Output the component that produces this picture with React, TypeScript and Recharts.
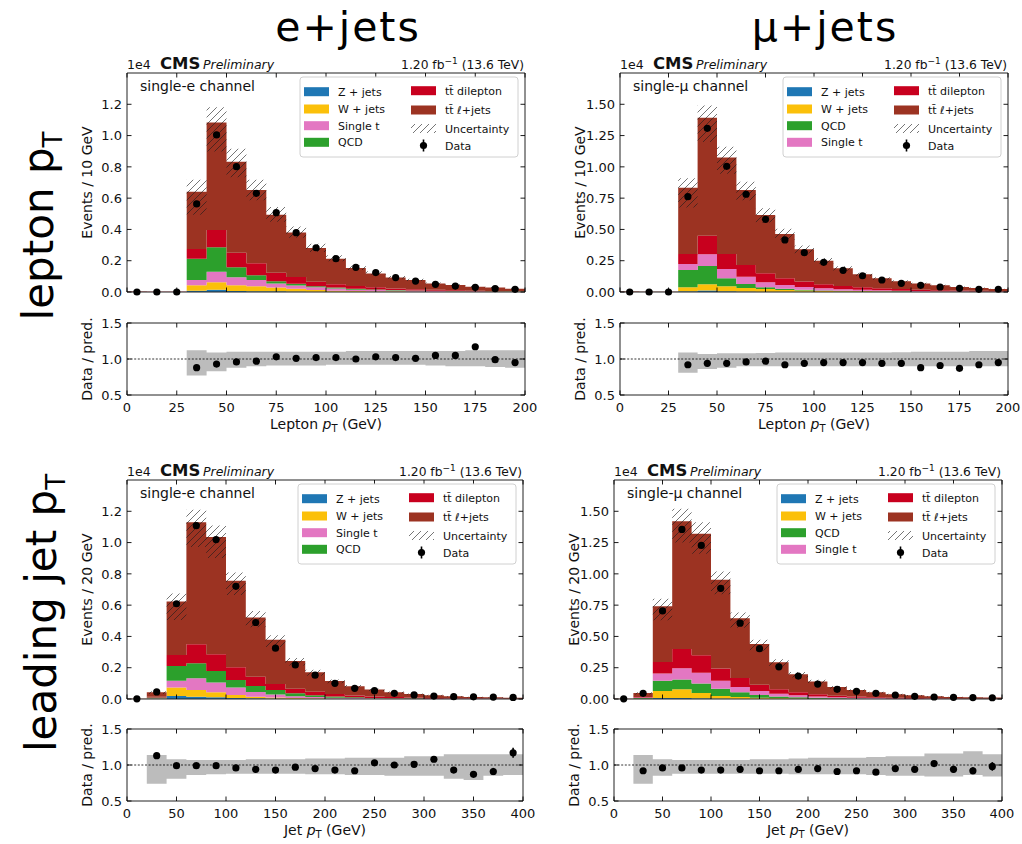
import React from 'react';
import { ComposedChart, Area, Scatter, XAxis, YAxis, ReferenceLine, ReferenceArea, ErrorBar } from 'recharts';

// ---------------- axis definitions ----------------
const LEP_X_TICKS = [0, 25, 50, 75, 100, 125, 150, 175, 200];
const JET_X_TICKS = [0, 50, 100, 150, 200, 250, 300, 350, 400];
const E_Y_TICKS = [0, 0.2, 0.4, 0.6, 0.8, 1.0, 1.2];
const MU_Y_TICKS = [0, 0.25, 0.5, 0.75, 1.0, 1.25, 1.5];
const RATIO_Y_TICKS = [0.5, 1.0, 1.5];

// ---------------- lepton pT, single-e (10 GeV bins, units 1e4) ----------------
const LEP_E_Z = [0, 0, 0, 0.008, 0.015, 0.007, 0.005, 0.004, 0.003, 0.002, 0.002, 0.001, 0.001, 0.001, 0.001, 0, 0, 0, 0, 0];
const LEP_E_W = [0, 0, 0, 0.035, 0.047, 0.036, 0.031, 0.024, 0.017, 0.010, 0.006, 0.005, 0.004, 0.003, 0.002, 0.002, 0.001, 0.001, 0.001, 0.001];
const LEP_E_ST = [0, 0, 0, 0.034, 0.068, 0.051, 0.041, 0.027, 0.022, 0.018, 0.014, 0.009, 0.007, 0.006, 0.005, 0.004, 0.003, 0.003, 0.002, 0.002];
const LEP_E_QCD = [0, 0, 0, 0.136, 0.156, 0.064, 0.030, 0.013, 0.010, 0.006, 0.006, 0.005, 0.004, 0.003, 0.002, 0.002, 0.002, 0.001, 0.001, 0.001];
const LEP_E_DIL = [0.001, 0.001, 0.001, 0.062, 0.110, 0.093, 0.076, 0.055, 0.044, 0.030, 0.021, 0.018, 0.014, 0.009, 0.007, 0.006, 0.005, 0.003, 0.002, 0.001];
const LEP_E_LJ = [0.002, 0.001, 0.001, 0.366, 0.687, 0.582, 0.469, 0.371, 0.285, 0.215, 0.164, 0.115, 0.089, 0.070, 0.060, 0.041, 0.034, 0.026, 0.022, 0.016];
const LEP_E_DATA = [0, 0, 0, 0.563, 1.004, 0.801, 0.631, 0.507, 0.379, 0.283, 0.213, 0.158, 0.124, 0.092, 0.070, 0.049, 0.038, 0.030, 0.021, 0.017];
const LEP_E_RATIO = [null, null, null, 0.88, 0.93, 0.96, 0.97, 1.03, 1.01, 1.02, 1.02, 1.00, 1.03, 1.02, 1.01, 1.05, 1.05, 1.17, 0.99, 0.95];
const LEP_E_RERR = [0, 0, 0, 0.005, 0.005, 0.005, 0.005, 0.006, 0.007, 0.008, 0.009, 0.01, 0.012, 0.014, 0.016, 0.018, 0.02, 0.025, 0.03, 0.035];
const LEP_E_UP = [0, 0, 0, 0.12, 0.09, 0.10, 0.10, 0.10, 0.10, 0.10, 0.10, 0.11, 0.11, 0.11, 0.11, 0.11, 0.11, 0.12, 0.12, 0.12];
const LEP_E_DN = [0, 0, 0, 0.23, 0.17, 0.12, 0.10, 0.09, 0.09, 0.09, 0.08, 0.08, 0.08, 0.08, 0.08, 0.09, 0.10, 0.10, 0.11, 0.12];

// ---------------- lepton pT, single-mu ----------------
const LEP_MU_Z = [0, 0, 0, 0.005, 0.011, 0.005, 0.004, 0.003, 0.002, 0.002, 0.001, 0.001, 0.001, 0.001, 0, 0, 0, 0, 0, 0];
const LEP_MU_W = [0, 0, 0, 0.032, 0.050, 0.040, 0.028, 0.020, 0.014, 0.009, 0.006, 0.005, 0.004, 0.003, 0.003, 0.002, 0.002, 0.001, 0.001, 0.001];
const LEP_MU_QCD = [0, 0, 0, 0.139, 0.147, 0.064, 0.032, 0.014, 0.010, 0.007, 0.005, 0.004, 0.003, 0.002, 0.002, 0.001, 0.001, 0.001, 0.001, 0.001];
const LEP_MU_ST = [0, 0, 0, 0.048, 0.093, 0.075, 0.058, 0.040, 0.030, 0.022, 0.017, 0.012, 0.009, 0.007, 0.005, 0.004, 0.003, 0.003, 0.002, 0.002];
const LEP_MU_DIL = [0.001, 0.001, 0.001, 0.080, 0.149, 0.120, 0.094, 0.072, 0.053, 0.043, 0.032, 0.026, 0.020, 0.016, 0.013, 0.011, 0.008, 0.006, 0.005, 0.003];
const LEP_MU_LJ = [0.003, 0.002, 0.002, 0.530, 0.943, 0.770, 0.599, 0.467, 0.355, 0.258, 0.189, 0.141, 0.104, 0.080, 0.062, 0.049, 0.039, 0.029, 0.023, 0.017];
const LEP_MU_DATA = [0, 0, 0, 0.762, 1.308, 1.004, 0.781, 0.581, 0.416, 0.314, 0.237, 0.173, 0.130, 0.096, 0.069, 0.053, 0.040, 0.029, 0.021, 0.022];
const LEP_MU_RATIO = [null, null, null, 0.92, 0.94, 0.94, 0.96, 0.97, 0.92, 0.94, 0.95, 0.95, 0.95, 0.94, 0.94, 0.88, 0.91, 0.87, 0.92, 0.95];
const LEP_MU_RERR = [0, 0, 0, 0.005, 0.005, 0.005, 0.005, 0.006, 0.007, 0.008, 0.009, 0.01, 0.012, 0.014, 0.016, 0.018, 0.02, 0.025, 0.03, 0.035];
const LEP_MU_UP = [0, 0, 0, 0.09, 0.07, 0.08, 0.08, 0.085, 0.09, 0.09, 0.09, 0.09, 0.09, 0.09, 0.095, 0.10, 0.10, 0.10, 0.11, 0.11];
const LEP_MU_DN = [0, 0, 0, 0.19, 0.14, 0.12, 0.10, 0.10, 0.10, 0.10, 0.10, 0.10, 0.10, 0.10, 0.10, 0.10, 0.10, 0.10, 0.10, 0.10];

// ---------------- leading jet pT, single-e (20 GeV bins) ----------------
const JET_E_Z = [0, 0.001, 0.019, 0.015, 0.011, 0.006, 0.004, 0.003, 0.002, 0.001, 0.001, 0.001, 0, 0, 0, 0, 0, 0, 0, 0];
const JET_E_W = [0, 0.002, 0.054, 0.043, 0.032, 0.020, 0.011, 0.006, 0.004, 0.003, 0.002, 0.001, 0.001, 0.001, 0, 0, 0, 0, 0, 0];
const JET_E_ST = [0, 0.002, 0.044, 0.074, 0.062, 0.047, 0.030, 0.019, 0.012, 0.008, 0.005, 0.004, 0.003, 0.002, 0.002, 0.001, 0.001, 0.001, 0.001, 0];
const JET_E_QCD = [0, 0.004, 0.094, 0.097, 0.074, 0.049, 0.038, 0.030, 0.018, 0.012, 0.008, 0.005, 0.003, 0.002, 0.002, 0.001, 0.001, 0.001, 0, 0];
const JET_E_DIL = [0, 0.005, 0.071, 0.121, 0.107, 0.081, 0.060, 0.038, 0.030, 0.023, 0.016, 0.011, 0.009, 0.007, 0.005, 0.005, 0.003, 0.002, 0.002, 0.002];
const JET_E_LJ = [0.002, 0.029, 0.342, 0.780, 0.750, 0.553, 0.378, 0.282, 0.177, 0.124, 0.083, 0.059, 0.044, 0.031, 0.023, 0.017, 0.012, 0.009, 0.008, 0.006];
const JET_E_DATA = [0.001, 0.045, 0.609, 1.108, 1.019, 0.720, 0.489, 0.325, 0.218, 0.152, 0.100, 0.068, 0.053, 0.036, 0.026, 0.019, 0.015, 0.014, 0.012, 0.010];
const JET_E_RATIO = [null, 1.13, 0.99, 0.99, 0.99, 0.96, 0.94, 0.93, 0.97, 0.95, 0.93, 0.92, 1.03, 1.00, 1.01, 1.08, 0.93, 0.87, 0.91, 1.17];
const JET_E_RERR = [0, 0.01, 0.005, 0.005, 0.005, 0.006, 0.007, 0.008, 0.01, 0.012, 0.014, 0.016, 0.02, 0.022, 0.025, 0.04, 0.035, 0.04, 0.05, 0.07];
const JET_E_UP = [0, 0.14, 0.08, 0.07, 0.07, 0.07, 0.08, 0.08, 0.08, 0.09, 0.09, 0.10, 0.10, 0.10, 0.12, 0.12, 0.15, 0.15, 0.15, 0.15];
const JET_E_DN = [0, 0.26, 0.19, 0.14, 0.13, 0.12, 0.12, 0.12, 0.12, 0.13, 0.13, 0.14, 0.14, 0.15, 0.15, 0.15, 0.19, 0.21, 0.15, 0.14];

// ---------------- leading jet pT, single-mu ----------------
const JET_MU_Z = [0, 0.001, 0.008, 0.008, 0.006, 0.004, 0.003, 0.002, 0.001, 0.001, 0.001, 0, 0, 0, 0, 0, 0, 0, 0, 0];
const JET_MU_W = [0, 0.002, 0.055, 0.069, 0.042, 0.020, 0.013, 0.008, 0.005, 0.003, 0.002, 0.001, 0.001, 0.001, 0, 0, 0, 0, 0, 0];
const JET_MU_QCD = [0, 0.005, 0.082, 0.079, 0.076, 0.058, 0.037, 0.022, 0.014, 0.009, 0.006, 0.004, 0.003, 0.002, 0.001, 0.001, 0.001, 0, 0, 0];
const JET_MU_ST = [0, 0.003, 0.059, 0.090, 0.085, 0.063, 0.042, 0.031, 0.022, 0.016, 0.011, 0.008, 0.006, 0.004, 0.003, 0.002, 0.002, 0.001, 0.001, 0.001];
const JET_MU_DIL = [0, 0.005, 0.092, 0.153, 0.140, 0.098, 0.072, 0.051, 0.035, 0.024, 0.017, 0.013, 0.009, 0.007, 0.006, 0.005, 0.003, 0.003, 0.002, 0.002];
const JET_MU_LJ = [0.002, 0.032, 0.445, 1.022, 0.971, 0.709, 0.479, 0.325, 0.217, 0.145, 0.103, 0.069, 0.052, 0.039, 0.027, 0.021, 0.015, 0.012, 0.010, 0.008];
const JET_MU_DATA = [0.001, 0.045, 0.704, 1.355, 1.227, 0.884, 0.606, 0.402, 0.257, 0.183, 0.119, 0.077, 0.061, 0.045, 0.032, 0.021, 0.016, 0.013, 0.011, 0.010];
const JET_MU_RATIO = [null, 0.92, 0.96, 0.96, 0.93, 0.93, 0.94, 0.92, 0.92, 0.94, 0.95, 0.91, 0.92, 0.90, 0.95, 0.94, 1.02, 0.94, 0.92, 0.98];
const JET_MU_RERR = [0, 0.01, 0.005, 0.005, 0.005, 0.006, 0.007, 0.008, 0.01, 0.012, 0.014, 0.016, 0.02, 0.022, 0.025, 0.03, 0.04, 0.05, 0.05, 0.06];
const JET_MU_UP = [0, 0.14, 0.08, 0.07, 0.07, 0.07, 0.07, 0.08, 0.08, 0.09, 0.10, 0.10, 0.10, 0.11, 0.12, 0.12, 0.16, 0.16, 0.19, 0.15];
const JET_MU_DN = [0, 0.26, 0.15, 0.12, 0.12, 0.12, 0.12, 0.12, 0.12, 0.13, 0.13, 0.13, 0.13, 0.14, 0.15, 0.15, 0.16, 0.16, 0.14, 0.16];

// ---------------- samples ----------------
const SAMPLE_NAMES: Record<string, string> = {
  Z: 'Z + jets', W: 'W + jets', ST: 'Single t', QCD: 'QCD',
  DIL: 't\u0074\u0304 dilepton', LJ: 't\u0074\u0304 \u2113+jets',
};
const SAMPLE_COLORS: Record<string, string> = {
  Z: '#1f77b4', W: '#fbc00a', ST: '#e377c2', QCD: '#2ca02c', DIL: '#c8001e', LJ: '#9c3322',
};
const E_STACK = ['Z', 'W', 'ST', 'QCD', 'DIL', 'LJ'];
const MU_STACK = ['Z', 'W', 'QCD', 'ST', 'DIL', 'LJ'];

// ---------------- layout ----------------
const FONT = "'DejaVu Sans', sans-serif";
const YW = 50, MT = 8, MR = 14;

const PANELS = [
  {
    id: 'lepE', L: 127, R: 525, T: 73, B: 292, rT: 323, rB: 395, binW: 10, xMax: 200, xTicks: LEP_X_TICKS,
    yMax: 1.4, yTicks: E_Y_TICKS, yDigits: 1, stack: E_STACK,
    comps: { Z: LEP_E_Z, W: LEP_E_W, ST: LEP_E_ST, QCD: LEP_E_QCD, DIL: LEP_E_DIL, LJ: LEP_E_LJ },
    data: LEP_E_DATA, ratio: LEP_E_RATIO, rerr: LEP_E_RERR, up: LEP_E_UP, dn: LEP_E_DN,
    channel: 'single-e channel', ylab: 'Events / 10 GeV', xname: 'Lepton',
  },
  {
    id: 'lepMu', L: 620, R: 1008, T: 73, B: 292, rT: 323, rB: 395, binW: 10, xMax: 200, xTicks: LEP_X_TICKS,
    yMax: 1.75, yTicks: MU_Y_TICKS, yDigits: 2, stack: MU_STACK,
    comps: { Z: LEP_MU_Z, W: LEP_MU_W, ST: LEP_MU_ST, QCD: LEP_MU_QCD, DIL: LEP_MU_DIL, LJ: LEP_MU_LJ },
    data: LEP_MU_DATA, ratio: LEP_MU_RATIO, rerr: LEP_MU_RERR, up: LEP_MU_UP, dn: LEP_MU_DN,
    channel: 'single-\u03bc channel', ylab: 'Events / 10 GeV', xname: 'Lepton',
  },
  {
    id: 'jetE', L: 127, R: 523, T: 480, B: 699, rT: 729, rB: 801, binW: 20, xMax: 400, xTicks: JET_X_TICKS,
    yMax: 1.4, yTicks: E_Y_TICKS, yDigits: 1, stack: E_STACK,
    comps: { Z: JET_E_Z, W: JET_E_W, ST: JET_E_ST, QCD: JET_E_QCD, DIL: JET_E_DIL, LJ: JET_E_LJ },
    data: JET_E_DATA, ratio: JET_E_RATIO, rerr: JET_E_RERR, up: JET_E_UP, dn: JET_E_DN,
    channel: 'single-e channel', ylab: 'Events / 20 GeV', xname: 'Jet',
  },
  {
    id: 'jetMu', L: 614, R: 1002, T: 480, B: 699, rT: 729, rB: 801, binW: 20, xMax: 400, xTicks: JET_X_TICKS,
    yMax: 1.75, yTicks: MU_Y_TICKS, yDigits: 2, stack: MU_STACK,
    comps: { Z: JET_MU_Z, W: JET_MU_W, ST: JET_MU_ST, QCD: JET_MU_QCD, DIL: JET_MU_DIL, LJ: JET_MU_LJ },
    data: JET_MU_DATA, ratio: JET_MU_RATIO, rerr: JET_MU_RERR, up: JET_MU_UP, dn: JET_MU_DN,
    channel: 'single-\u03bc channel', ylab: 'Events / 20 GeV', xname: 'Jet',
  },
];

// ---------------- helpers ----------------
function histRows(p: any) {
  const n = p.data.length;
  const rows: any[] = [];
  for (let i = 0; i <= n; i++) {
    const k = Math.min(i, n - 1);
    const row: any = { x: i * p.binW };
    let tot = 0;
    p.stack.forEach((s: string) => { row[s] = p.comps[s][k]; tot += p.comps[s][k]; });
    row.unc = [tot * (1 - p.dn[k]), tot * (1 + p.up[k])];
    rows.push(row);
  }
  return rows;
}

function ratioRows(p: any) {
  const n = p.data.length;
  const rows: any[] = [];
  for (let i = 0; i <= n; i++) {
    const k = Math.min(i, n - 1);
    rows.push({ x: i * p.binW, band: [1 - p.dn[k], 1 + p.up[k]] });
  }
  return rows;
}

const yTick = (plotW: number, fmt: (v: number) => string) => (props: any) => {
  const { y, payload } = props;
  return (
    <g>
      <line x1={YW} x2={YW + 4.5} y1={y} y2={y} stroke="#000" strokeWidth={0.9} />
      <line x1={YW + plotW - 4.5} x2={YW + plotW} y1={y} y2={y} stroke="#000" strokeWidth={0.9} />
      <text x={YW - 5} y={y + 4.7} textAnchor="end" fontSize={13} fill="#111" fontFamily={FONT}>{fmt(payload.value)}</text>
    </g>
  );
};

const xTick = (plotH: number, withLabel: boolean) => (props: any) => {
  const { x, payload } = props;
  const yb = MT + plotH;
  return (
    <g>
      <line x1={x} x2={x} y1={yb} y2={yb - 4.5} stroke="#000" strokeWidth={0.9} />
      <line x1={x} x2={x} y1={MT} y2={MT + 4.5} stroke="#000" strokeWidth={0.9} />
      {withLabel && (
        <text x={x} y={yb + 17} textAnchor="middle" fontSize={13} fill="#111" fontFamily={FONT}>{payload.value}</text>
      )}
    </g>
  );
};

const DataDot = (props: any) => <circle cx={props.cx} cy={props.cy} r={3.6} fill="#000" />;

function MainPlot({ p }: { p: any }) {
  const plotW = p.R - p.L, plotH = p.B - p.T, XH = 14;
  const rows = histRows(p);
  const pts = p.data.map((v: number, i: number) => ({ x: (i + 0.5) * p.binW, y: v }));
  const hid = `hatch-${p.id}`;
  return (
    <div style={{ position: 'absolute', left: p.L - YW, top: p.T - MT }}>
      <ComposedChart width={YW + plotW + MR} height={MT + plotH + XH} data={rows}
        margin={{ top: MT, right: MR, bottom: 0, left: 0 }}>
        <defs>
          <pattern id={hid} patternUnits="userSpaceOnUse" width={7} height={7}>
            <path d="M-1,1 L1,-1 M0,7 L7,0 M6,8 L8,6" stroke="#1a1a1a" strokeWidth={1} strokeOpacity={0.6} />
          </pattern>
        </defs>
        <XAxis dataKey="x" type="number" domain={[0, p.xMax]} ticks={p.xTicks} interval={0} height={XH}
          axisLine={false} tickLine={false} tick={xTick(plotH, false)} />
        <YAxis type="number" domain={[0, p.yMax]} ticks={p.yTicks} interval={0} width={YW}
          axisLine={false} tickLine={false} tick={yTick(plotW, (v) => v.toFixed(p.yDigits))} />
        {p.stack.map((s: string) => (
          <Area key={s} type="stepAfter" dataKey={s} stackId="mc" fill={SAMPLE_COLORS[s]} fillOpacity={1}
            stroke="none" strokeWidth={0} dot={false} activeDot={false} isAnimationActive={false} />
        ))}
        <Area type="stepAfter" dataKey="unc" fill={`url(#${hid})`} fillOpacity={1} stroke="none"
          dot={false} activeDot={false} isAnimationActive={false} />
        <Scatter data={pts} dataKey="y" shape={DataDot} isAnimationActive={false} />
        <ReferenceArea x1={0} x2={p.xMax} y1={0} y2={p.yMax} fill="none" fillOpacity={0}
          stroke="#222" strokeWidth={1} ifOverflow="visible" />
      </ComposedChart>
    </div>
  );
}

function RatioPlot({ p }: { p: any }) {
  const plotW = p.R - p.L, plotH = p.rB - p.rT, XH = 26;
  const rows = ratioRows(p);
  const pts = p.ratio
    .map((v: number | null, i: number) => (v == null ? null : { x: (i + 0.5) * p.binW, y: v, err: p.rerr[i] }))
    .filter((d: any) => d != null);
  return (
    <div style={{ position: 'absolute', left: p.L - YW, top: p.rT - MT }}>
      <ComposedChart width={YW + plotW + MR} height={MT + plotH + XH} data={rows}
        margin={{ top: MT, right: MR, bottom: 0, left: 0 }}>
        <XAxis dataKey="x" type="number" domain={[0, p.xMax]} ticks={p.xTicks} interval={0} height={XH}
          axisLine={false} tickLine={false} tick={xTick(plotH, true)} />
        <YAxis type="number" domain={[0.5, 1.5]} ticks={RATIO_Y_TICKS} interval={0} width={YW}
          axisLine={false} tickLine={false} tick={yTick(plotW, (v) => v.toFixed(1))} />
        <Area type="stepAfter" dataKey="band" fill="#bcbcbc" fillOpacity={1} stroke="none"
          dot={false} activeDot={false} isAnimationActive={false} />
        <ReferenceLine y={1} stroke="#000" strokeWidth={0.8} strokeDasharray="2 1.6" />
        <Scatter data={pts} dataKey="y" shape={DataDot} isAnimationActive={false}>
          <ErrorBar dataKey="err" direction="y" width={0} stroke="#000" strokeWidth={1.6} />
        </Scatter>
        <ReferenceArea x1={0} x2={p.xMax} y1={0.5} y2={1.5} fill="none" fillOpacity={0}
          stroke="#222" strokeWidth={1} ifOverflow="visible" />
      </ComposedChart>
    </div>
  );
}

function LegendBox({ p }: { p: any }) {
  const bx = p.R - 225, by = p.T + 4;
  const col1 = p.stack.slice(0, 4);
  const col1Y = [14.7, 32, 48.7, 65.3];
  const col2Y = [13.7, 33, 51.5, 68.5];
  const hid = `lh-${p.id}`;
  return (
    <g fontFamily={FONT} fontSize={11} fill="#111">
      <defs>
        <pattern id={hid} patternUnits="userSpaceOnUse" width={7} height={7}>
          <path d="M-1,1 L1,-1 M0,7 L7,0 M6,8 L8,6" stroke="#1a1a1a" strokeWidth={1} strokeOpacity={0.6} />
        </pattern>
      </defs>
      <rect x={bx} y={by} width={218} height={80} rx={3} fill="#fff" fillOpacity={0.85} stroke="#d0d0d0" strokeWidth={1} />
      {col1.map((s: string, i: number) => (
        <g key={s}>
          <rect x={bx + 4} y={by + col1Y[i] - 4.5} width={25} height={9} fill={SAMPLE_COLORS[s]} />
          <text x={bx + 38} y={by + col1Y[i] + 4}>{SAMPLE_NAMES[s]}</text>
        </g>
      ))}
      {['DIL', 'LJ'].map((s, i) => (
        <g key={s}>
          <rect x={bx + 111} y={by + col2Y[i] - 4.5} width={25} height={9} fill={SAMPLE_COLORS[s]} />
          <text x={bx + 145} y={by + col2Y[i] + 4}>{SAMPLE_NAMES[s]}</text>
        </g>
      ))}
      <rect x={bx + 111} y={by + col2Y[2] - 4.5} width={25} height={9} fill={`url(#${hid})`} />
      <text x={bx + 145} y={by + col2Y[2] + 4}>Uncertainty</text>
      <line x1={bx + 123.5} x2={bx + 123.5} y1={by + col2Y[3] - 6} y2={by + col2Y[3] + 6} stroke="#000" strokeWidth={1.6} />
      <circle cx={bx + 123.5} cy={by + col2Y[3]} r={3.6} fill="#000" />
      <text x={bx + 145} y={by + col2Y[3] + 4}>Data</text>
    </g>
  );
}

function PanelText({ p }: { p: any }) {
  const hy = p.T - 4;
  const midMain = (p.T + p.B) / 2;
  const midRatio = (p.rT + p.rB) / 2;
  return (
    <g fontFamily={FONT} fill="#111">
      <text x={p.L} y={hy} fontSize={12.5}>1e4</text>
      <text x={p.L + 33} y={hy} fontSize={16.5} fontWeight="bold">CMS</text>
      <text x={p.L + 76} y={hy} fontSize={12.5} fontStyle="italic">Preliminary</text>
      <text x={p.R - 1} y={hy} fontSize={12.3} textAnchor="end">
        1.20 fb<tspan dy={-5} fontSize={9}>{'\u22121'}</tspan><tspan dy={5}> (13.6 TeV)</tspan>
      </text>
      <text x={p.L + 13} y={p.T + 18} fontSize={14}>{p.channel}</text>
      <text transform={`translate(${p.L - 35},${midMain}) rotate(-90)`} textAnchor="middle" fontSize={14}>{p.ylab}</text>
      <text transform={`translate(${p.L - 35},${midRatio}) rotate(-90)`} textAnchor="middle" fontSize={14}>Data / pred.</text>
      <text x={(p.L + p.R) / 2} y={p.rB + 34} textAnchor="middle" fontSize={14}>
        {p.xname} <tspan fontStyle="italic">p</tspan><tspan dy={3} fontSize={10}>T</tspan><tspan dy={-3}> (GeV)</tspan>
      </text>
      <LegendBox p={p} />
    </g>
  );
}

export default function App() {
  return (
    <div style={{ position: 'absolute', left: 0, top: 0, width: 1022, height: 844, background: '#fff', overflow: 'hidden', fontFamily: FONT }}>
      {PANELS.map((p) => (
        <React.Fragment key={p.id}>
          <MainPlot p={p} />
          <RatioPlot p={p} />
        </React.Fragment>
      ))}
      <svg width={1022} height={844} style={{ position: 'absolute', left: 0, top: 0, pointerEvents: 'none' }}>
        <g fontFamily={FONT} fill="#000">
          <text x={348} y={41} textAnchor="middle" fontSize={41} letterSpacing={2}>e+jets</text>
          <text x={825} y={41} textAnchor="middle" fontSize={41} letterSpacing={2}>{'\u03bc+jets'}</text>
          <text transform="translate(53,226) rotate(-90)" textAnchor="middle" fontSize={42}>
            lepton p<tspan dy={9} fontSize={26}>T</tspan>
          </text>
          <text transform="translate(56,613) rotate(-90)" textAnchor="middle" fontSize={42}>
            leading jet p<tspan dy={9} fontSize={26}>T</tspan>
          </text>
        </g>
        {PANELS.map((p) => <PanelText key={p.id} p={p} />)}
      </svg>
    </div>
  );
}
